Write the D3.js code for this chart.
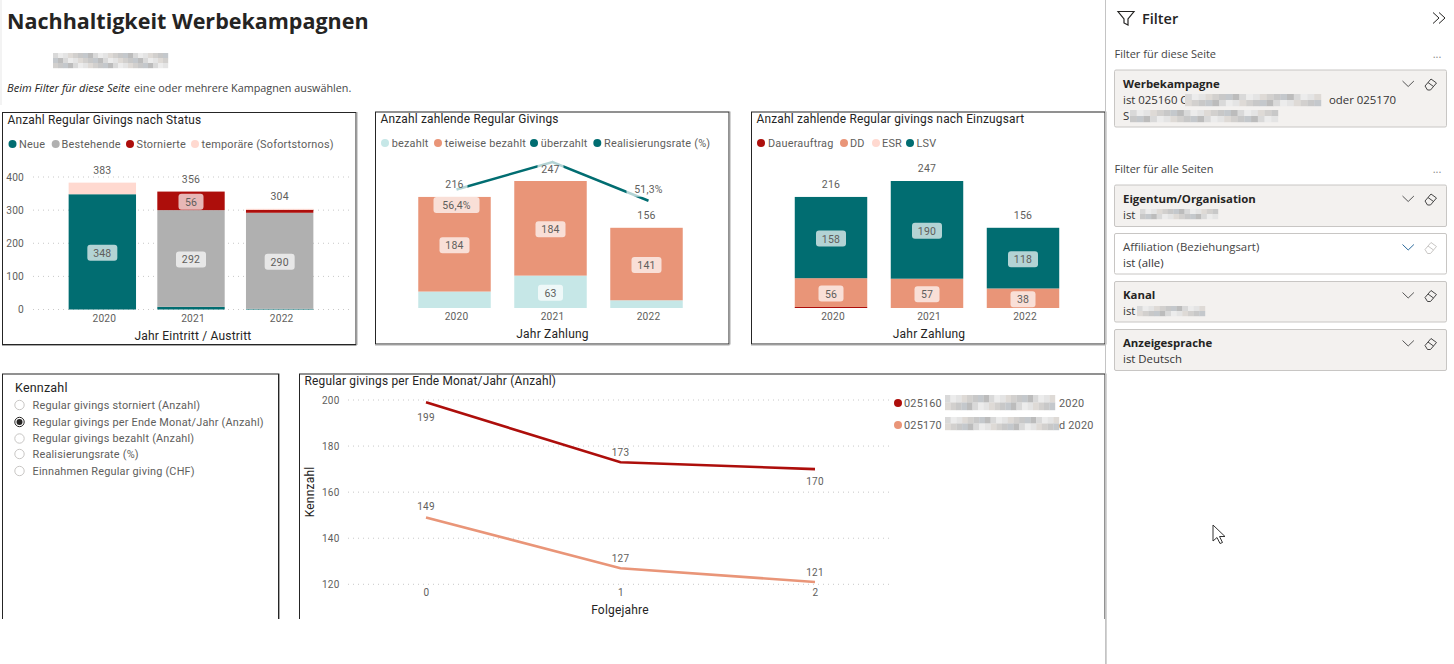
<!DOCTYPE html>
<html><head><meta charset="utf-8">
<script src="https://cdnjs.cloudflare.com/ajax/libs/d3/7.8.5/d3.min.js"></script>
<style>
html,body{margin:0;padding:0;background:#fff;overflow:hidden}
svg{display:block}
.din{font-family:Roboto,sans-serif;letter-spacing:.2px}
.seg{font-family:"Open Sans",sans-serif}
</style></head><body>
<svg id="c" width="1454" height="664"></svg>
<script>
// ---------- data ----------
const yearsStatus = ["2020","2021","2022"];
const statusNeue = [348,8,2];
const statusBestehende = [0,292,290];
const statusStornierte = [0,56,9];
const statusTemporaer = [35,0,3];
const statusTotals = [383,356,304];
const statusLabelled = {Neue:[348,null,null],Bestehende:[null,292,290],Stornierte:[null,56,null],Temp:[null,null,null]};
const statusTicks = [0,100,200,300,400];

const yearsPay = ["2020","2021","2022"];
const payBezahlt = [32,63,15];
const payTeilweise = [184,184,141];
const payUeberzahlt = [0,0,0];
const payTotals = [216,247,156];
const payRate = [56.4,68.9,51.3];
const payRateLabels = ["56,4%",null,"51,3%"];

const artDauerauftrag = [2,0,0];
const artDD = [56,57,38];
const artESR = [0,0,0];
const artLSV = [158,190,118];
const artTotals = [216,247,156];

const lineX = [0,1,2];
const line025160 = [199,173,170];
const line025170 = [149,127,121];
const lineTicks = [120,140,160,180,200];

const slicerItems = ["Regular givings storniert (Anzahl)","Regular givings per Ende Monat/Jahr (Anzahl)","Regular givings bezahlt (Anzahl)","Realisierungsrate (%)","Einnahmen Regular giving (CHF)"];
const C = {teal:"#016d71",grey:"#b0b0b0",red:"#ad0e0b",pink:"#ffd9d0",salmon:"#e99578",ltteal:"#c6e7e7",txt:"#605e5c",dark:"#252423"};

const svg = d3.select("#c");
function frame(x,y,w,h,open){
  const g=svg.append("g");
  g.append("rect").attr("x",x+.5).attr("y",y+.5).attr("width",w).attr("height",h).attr("fill","#fff").attr("stroke","#252525").attr("stroke-width",1);
  g.append("line").attr("x1",x+w+1.5).attr("x2",x+w+1.5).attr("y1",y).attr("y2",y+h+1).attr("stroke","#a8a8a8");
  if(!open) g.append("line").attr("x1",x).attr("x2",x+w+1).attr("y1",y+h+1.5).attr("y2",y+h+1.5).attr("stroke","#a8a8a8");
}
function txt(x,y,s,o={}){
  const cls=o.cls||"din";
  return svg.append("text").attr("x",x).attr("y",cls=="seg"?y-1:y).attr("class",cls).attr("font-size",o.size||11)
    .attr("fill",o.fill||C.txt).attr("text-anchor",o.anchor||"start").attr("dominant-baseline","central")
    .attr("font-weight",o.weight||400).attr("font-style",o.style||"normal").text(s);
}
function legend(items,y){
  items.forEach(d=>{
    svg.append("circle").attr("cx",d.dot).attr("cy",y).attr("r",4).attr("fill",d.color);
    txt(d.text,y,d.name,{size:10.9});
  });
}
function label(x,y,s,w,alpha,textFill){
  svg.append("rect").attr("x",x-w/2).attr("y",y-8).attr("width",w).attr("height",16).attr("rx",3)
    .attr("fill","#fff").attr("fill-opacity",alpha);
  txt(x,y+.5,s,{anchor:"middle",size:10.5,fill:textFill||C.txt});
}
function stackedChart(opt){
  const x=d3.scaleBand().domain(opt.cats).range(opt.xr).paddingInner(opt.pad).paddingOuter(opt.pad/2);
  const y=d3.scaleLinear().domain(opt.dom).range(opt.yr);
  const rows=opt.cats.map((c,i)=>{const r={cat:c};opt.series.forEach(s=>r[s.key]=s.vals[i]);return r;});
  const stacked=d3.stack().keys(opt.series.map(s=>s.key))(rows);
  if(opt.ticks){
    svg.append("g").attr("transform",`translate(${opt.axisX},0)`)
      .call(d3.axisLeft(y).tickValues(opt.ticks).tickSize(0).tickPadding(0))
      .call(g=>g.select(".domain").remove())
      .call(g=>g.selectAll("text").attr("class","din").attr("font-size",10.2).attr("fill",C.txt).attr("font-family",null));
    svg.append("g").selectAll("line").data(opt.ticks).join("line")
      .attr("x1",opt.gridX[0]).attr("x2",opt.gridX[1]).attr("y1",d=>y(d)).attr("y2",d=>y(d))
      .attr("stroke","#c8c8c8").attr("stroke-dasharray","1 4");
  }
  stacked.forEach((layer,si)=>{
    svg.append("g").selectAll("rect").data(layer).join("rect")
      .attr("x",d=>x(d.data.cat)).attr("width",x.bandwidth())
      .attr("y",d=>y(d[1])).attr("height",d=>y(d[0])-y(d[1]))
      .attr("fill",opt.series[si].color);
  });
  svg.append("g").attr("transform",`translate(${opt.tickShift},${opt.yr[0]})`)
    .call(d3.axisBottom(x).tickSize(0).tickPadding(opt.tickPad))
    .call(g=>g.select(".domain").remove())
    .call(g=>g.selectAll("text").attr("class","din").attr("font-size",10.2).attr("fill",C.txt).attr("font-family",null));
  return {x,y,stacked};
}
function segLabels(ch,opt,si,show,alpha){
  ch.stacked[si].forEach((d,i)=>{
    if(show[i]==null) return;
    const s=String(show[i]);
    label(ch.x(d.data.cat)+ch.x.bandwidth()/2,ch.y((d[0]+d[1])/2)+1,s,s.length>2?30:25,alpha);
  });
}
function totals(ch,vals){
  ch.x.domain().forEach((c,i)=>{
    txt(ch.x(c)+ch.x.bandwidth()/2,ch.y(vals[i])-12.5,vals[i],{anchor:"middle",size:10.5});
  });
}
svg.append("rect").attr("x",0).attr("y",0).attr("width",2).attr("height",105).attr("fill","#f3f3f3");

// heading
txt(7,21.5,"Nachhaltigkeit Werbekampagnen",{cls:"seg",size:21.5,weight:700,fill:C.dark});
txt(7,88,"Beim Filter für diese Seite",{cls:"seg",size:11.1,style:"italic",fill:C.dark});
txt(134,88,"eine oder mehrere Kampagnen auswählen.",{cls:"seg",size:10.8,fill:"#444"});

// mosaic used for anonymised text
const mosaicShades=["#d9d9d9","#c8c8c8","#e4e4e4","#bcbcbc","#d2d0ce","#ececec","#c4c8cc","#dedad6"];
function mosaic(x,y,w,h,cols,rows){
  const cw=w/cols,ch=h/rows;
  d3.range(rows*cols).forEach(i=>{
    svg.append("rect").attr("x",x+(i%cols)*cw).attr("y",y+Math.floor(i/cols)*ch).attr("width",cw+.2).attr("height",ch+.2)
      .attr("fill",mosaicShades[(i*5+Math.floor(i/cols)*3)%mosaicShades.length]);
  });
}
mosaic(53,53,115,15,23,3);

// Chart 1
frame(2,112,353.5,232);
txt(7.5,120,"Anzahl Regular Givings nach Status",{size:11.9,fill:C.dark});
legend([{dot:12.5,text:19,name:"Neue",color:C.teal},{dot:55.7,text:61.5,name:"Bestehende",color:C.grey},{dot:130,text:136.5,name:"Stornierte",color:C.red},{dot:195,text:201.5,name:"temporäre (Sofortstornos)",color:C.pink}],144);
const opt1={cats:yearsStatus,xr:[58,324],pad:.24,dom:[0,400],yr:[309.5,177],ticks:statusTicks,axisX:24,gridX:[33,350],tickShift:2,tickPad:5,
  series:[{key:"n",vals:statusNeue,color:C.teal},{key:"b",vals:statusBestehende,color:C.grey},{key:"s",vals:statusStornierte,color:C.red},{key:"t",vals:statusTemporaer,color:C.pink}]};
const ch1=stackedChart(opt1);
segLabels(ch1,opt1,0,statusLabelled.Neue,.7);
segLabels(ch1,opt1,1,statusLabelled.Bestehende,.7);
segLabels(ch1,opt1,2,statusLabelled.Stornierte,.7);
totals(ch1,statusTotals);
txt(193,336,"Jahr Eintritt / Austritt",{anchor:"middle",size:12,fill:C.dark});

// Chart 2
frame(375,111.5,353.5,232);
txt(380.5,119,"Anzahl zahlende Regular Givings",{size:11.9,fill:C.dark});
legend([{dot:385,text:391.7,name:"bezahlt",color:C.ltteal},{dot:438,text:444.7,name:"teiweise bezahlt",color:C.salmon},{dot:534,text:540.7,name:"überzahlt",color:C.teal},{dot:597.3,text:604,name:"Realisierungsrate (%)",color:C.teal}],143);
const opt2={cats:yearsPay,xr:[406.5,694.5],pad:.245,dom:[0,247],yr:[308,181],tickShift:2,tickPad:5,
  series:[{key:"b",vals:payBezahlt,color:C.ltteal},{key:"t",vals:payTeilweise,color:C.salmon},{key:"u",vals:payUeberzahlt,color:C.teal}]};
const ch2=stackedChart(opt2);
const yRate=d3.scaleLinear().domain([0,80]).range([313.6,137.6]);
svg.append("path").datum(payRate).attr("fill","none").attr("stroke",C.teal).attr("stroke-width",2.5)
  .attr("d",d3.line().x((d,i)=>ch2.x(yearsPay[i])+ch2.x.bandwidth()/2+2).y(d=>yRate(d)));
segLabels(ch2,opt2,0,[null,63,null],.7);
segLabels(ch2,opt2,1,payTeilweise,.7);
ch2.x.domain().forEach((c,i)=>{
  const cx=ch2.x(c)+ch2.x.bandwidth()/2;
  label(cx,ch2.y(payTotals[i])-12.5,payTotals[i],26,.7);
  if(payRateLabels[i]) label(cx+2,yRate(payRate[i])+(i==0?15.5:-12),payRateLabels[i],i==0?46:44,.7);
});
txt(552.5,334,"Jahr Zahlung",{anchor:"middle",size:12,fill:C.dark});

// Chart 3
frame(751,111.5,353.5,232);
txt(756.5,119,"Anzahl zahlende Regular givings nach Einzugsart",{size:11.9,fill:C.dark});
legend([{dot:761,text:768,name:"Dauerauftrag",color:C.red},{dot:844,text:850,name:"DD",color:C.salmon},{dot:876,text:882,name:"ESR",color:C.pink},{dot:910,text:916.5,name:"LSV",color:C.teal}],143);
const opt3={cats:yearsPay,xr:[783,1071],pad:.245,dom:[0,247],yr:[308,181],tickShift:2,tickPad:5,
  series:[{key:"d",vals:artDauerauftrag,color:C.red},{key:"dd",vals:artDD,color:C.salmon},{key:"e",vals:artESR,color:C.pink},{key:"l",vals:artLSV,color:C.teal}]};
const ch3=stackedChart(opt3);
segLabels(ch3,opt3,1,artDD,.7);
segLabels(ch3,opt3,3,artLSV,.7);
totals(ch3,artTotals);
txt(929,334,"Jahr Zahlung",{anchor:"middle",size:12,fill:C.dark});

// Slicer
frame(2,373.5,276,300,true);
txt(15,387,"Kennzahl",{size:12.5,fill:C.dark});
const slicerY=[405,422,438.5,454,471];
slicerItems.forEach((s,i)=>{
  svg.append("circle").attr("cx",19.5).attr("cy",slicerY[i]).attr("r",4.7).attr("fill","#fff").attr("stroke",i==1?"#252423":"#c8c6c4");
  if(i==1) svg.append("circle").attr("cx",19.5).attr("cy",slicerY[i]).attr("r",3).attr("fill","#252423");
  txt(32.5,slicerY[i],s,{size:10.9});
});

// Line chart
frame(299,373.5,805.5,300,true);
txt(304.5,381,"Regular givings per Ende Monat/Jahr (Anzahl)",{size:11.9,fill:C.dark});
const lx=d3.scalePoint().domain(lineX).range([426,815]);
const ly=d3.scaleLinear().domain([120,200]).range([584.3,400]);
svg.append("g").selectAll("line").data(lineTicks).join("line").attr("x1",348).attr("x2",892)
  .attr("y1",d=>ly(d)).attr("y2",d=>ly(d)).attr("stroke","#c8c8c8").attr("stroke-dasharray","1 4");
svg.append("g").attr("transform","translate(339.5,0)").call(d3.axisLeft(ly).tickValues(lineTicks).tickSize(0).tickPadding(0))
  .call(g=>g.select(".domain").remove())
  .call(g=>g.selectAll("text").attr("class","din").attr("font-size",10).attr("fill",C.txt).attr("font-family",null));
svg.append("g").attr("transform","translate(0,584.3)").call(d3.axisBottom(lx).tickSize(0).tickPadding(5))
  .call(g=>g.select(".domain").remove())
  .call(g=>g.selectAll("text").attr("class","din").attr("font-size",10).attr("fill",C.txt).attr("font-family",null));
const ln=d3.line().x((d,i)=>lx(lineX[i])).y(d=>ly(d));
svg.append("path").datum(line025160).attr("d",ln).attr("fill","none").attr("stroke",C.red).attr("stroke-width",2.6);
svg.append("path").datum(line025170).attr("d",ln).attr("fill","none").attr("stroke",C.salmon).attr("stroke-width",2.6);
const off1=[15.5,-9.5,12.5], off2=[-11,-9.5,-9.5];
line025160.forEach((v,i)=>txt(lx(i),ly(v)+off1[i],v,{anchor:"middle",size:10}));
line025170.forEach((v,i)=>txt(lx(i),ly(v)+off2[i],v,{anchor:"middle",size:10}));
txt(620,610,"Folgejahre",{anchor:"middle",size:12,fill:C.dark});
svg.append("text").attr("class","din").attr("transform","translate(310,492) rotate(-90)").attr("text-anchor","middle").attr("dominant-baseline","central").attr("font-size",12).attr("fill",C.dark).text("Kennzahl");
svg.append("circle").attr("cx",898).attr("cy",403).attr("r",4).attr("fill",C.red);
svg.append("circle").attr("cx",898).attr("cy",425).attr("r",4).attr("fill",C.salmon);
txt(904,403,"025160",{size:10.9});
txt(904,425,"025170",{size:10.9});
mosaic(945,395,110,15,20,2);
txt(1059,403,"2020",{size:10.9});
mosaic(945,417,114,13,20,2);
txt(1059,425,"d 2020",{size:10.9});

// white strip below report canvas
svg.append("rect").attr("x",0).attr("y",619).attr("width",1105).attr("height",45).attr("fill","#fff");

// Filter pane
svg.append("rect").attr("x",1105).attr("y",0).attr("width",1).attr("height",664).attr("fill","#c4c4c4");
svg.append("path").attr("d","M1118 11.5H1134L1128 19V25L1124 23V19Z").attr("fill","none").attr("stroke",C.dark).attr("stroke-width",1.2);
txt(1142,19.5,"Filter",{cls:"seg",size:14.5,weight:600,fill:C.dark});
svg.append("path").attr("d","M1433 12.5L1439 18L1433 23.5M1439 12.5L1445 18L1439 23.5").attr("fill","none").attr("stroke",C.dark);
txt(1114.5,54,"Filter für diese Seite",{cls:"seg",size:11,fill:"#444"});
txt(1114.5,169,"Filter für alle Seiten",{cls:"seg",size:11,fill:"#444"});
[54,169].forEach(y=>txt(1437,y,"...",{cls:"seg",size:11,anchor:"middle",fill:"#888"}));
const cards=[
 {y:70,h:57,title:"Werbekampagne",lines:["ist 025160 C","S"],bold:true},
 {y:185,h:41.5,title:"Eigentum/Organisation",lines:["ist "],bold:true},
 {y:233.5,h:40.5,title:"Affiliation (Beziehungsart)",lines:["ist (alle)"],bold:false},
 {y:281.5,h:40.5,title:"Kanal",lines:["ist"],bold:true},
 {y:329.5,h:41,title:"Anzeigesprache",lines:["ist Deutsch"],bold:true}];
cards.forEach(c=>{
  svg.append("rect").attr("x",1114.5).attr("y",c.y).attr("width",332).attr("height",c.h).attr("rx",1.5)
    .attr("fill",c.bold?"#f3f1ef":"#fff").attr("stroke","#c8c6c4");
  txt(1123,c.y+14,c.title,{cls:"seg",size:11.4,weight:c.bold?700:400,fill:c.bold?C.dark:"#444"});
  c.lines.forEach((l,i)=>txt(1123,c.y+30+i*16,l,{cls:"seg",size:11.4,fill:"#333"}));
  svg.append("path").attr("d",`M${1402.5} ${c.y+11}l5.7 5.5l5.7-5.5`).attr("fill","none").attr("stroke",c.bold?"#555":"#2b6a9c");
  svg.append("path").attr("d",`M${1425} ${c.y+16}l6-7l5.5 4l-6 7h-3z M1428 ${c.y+12.5}l5.5 4`).attr("fill","none").attr("stroke",c.bold?"#444":"#c8c6c4");
});
mosaic(1185,94,136,12,20,2);
txt(1329,100,"oder 025170",{cls:"seg",size:11.4,fill:"#333"});
mosaic(1130,110,148,12,22,2);
mosaic(1140,209,78,10,14,2);
mosaic(1137,306,68,10,12,2);

// pointer
svg.append("path").attr("d","M1213 525V541L1217 537.5L1220 543.5L1222.5 542.5L1219.5 536.5H1225Z").attr("fill","#fff").attr("stroke","#333").attr("stroke-width",1);
</script></body></html>
